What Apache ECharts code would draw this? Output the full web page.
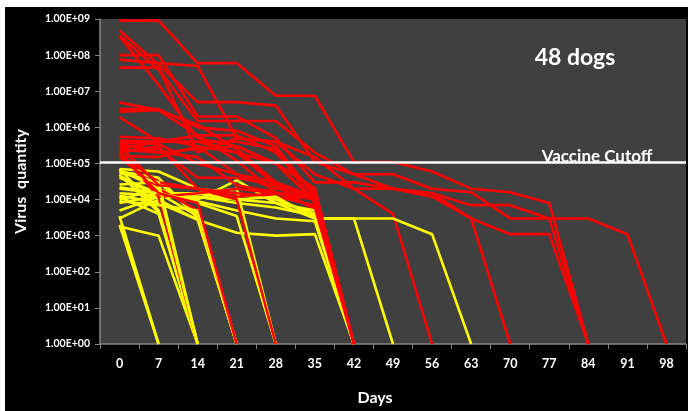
<!DOCTYPE html>
<html>
<head>
<meta charset="utf-8">
<script src="https://cdn.jsdelivr.net/npm/echarts@6/dist/echarts.min.js"></script>
<style>
  html, body { margin: 0; padding: 0; background: #fff; }
  #main { position: absolute; left: 5px; top: 7px; width: 683px; height: 404px; }
</style>
</head>
<body>
<div id="main"></div>
<script>
const days = ['0', '7', '14', '21', '28', '35', '42', '49', '56', '63', '70', '77', '84', '91', '98']
const cutoff = 1.1e5

// each dog: virus quantity per sampling day, last value 1 = cleared
const redDogs = [
  [9e8, 9e8, 6e7, 6e7, 7.5e6, 7.5e6, 1.1e5, 1.1e5, 6e4, 2e4, 1.6e4, 8e3, 1],
  [7.5e7, 6e7, 5e7, 5e5, 4e5, 1.5e5, 2e4, 2e4, 1.5e4, 7e3, 7e3, 3e3, 3e3, 1.1e3, 1],
  [4.8e8, 5.5e7, 5e6, 5e6, 4e6, 1.1e5, 5e4, 2e4, 1.2e4, 3e3, 1.1e3, 1.1e3, 1],
  [3.5e8, 4e7, 1.5e6, 1.5e6, 1.5e6, 2e5, 5e4, 5e4, 2e4, 1.6e4, 3e3, 3e3, 1],
  [1e8, 1e8, 2e6, 2e6, 5e5, 3e4, 3e4, 2e4, 1.5e4, 3e3, 1],
  [4.5e7, 4.5e7, 2e5, 5e5, 4e5, 5e4, 2e4, 4e3, 1],
  [3.3e8, 1.5e7, 5e5, 3e5, 1e5, 2e4, 1],
  [4.9e6, 3e6, 6e5, 6e5, 2e5, 1.5e4, 1],
  [3.2e6, 3.2e6, 1e6, 8e5, 3e5, 1.2e4, 1],
  [2.7e6, 3e6, 1.2e6, 2.5e5, 3e4, 1e4, 1],
  [1.9e6, 4e5, 4e5, 4e5, 2.5e5, 8e3, 1],
  [4.3e5, 4e5, 4e5, 2e5, 2.5e4, 1e4, 1],
  [3.7e5, 3.5e5, 1e5, 5e4, 2e4, 1.5e4, 1],
  [3.1e5, 2.5e5, 4e4, 4e4, 2.5e4, 5e3, 1],
  [2.4e5, 2e5, 2.5e5, 3e5, 1e5, 9e3, 1],
  [2e5, 3e5, 2e4, 1.5e4, 1.2e4, 7e3, 1],
  [2e5, 1.2e4, 1],
  [1.5e5, 2e4, 5e3, 1],
  [1.6e5, 1.5e5, 3e5, 5e4, 3e4, 1.2e4, 1],
  [2.2e5, 1.2e4, 1.5e4, 2e4, 1.5e4, 1e4, 1],
  [1.8e5, 3e4, 2e4, 1.2e4, 1.5e4, 1.3e4, 1],
  [3.5e5, 2e5, 1.5e5, 2.5e4, 1.6e4, 6e3, 1],
  [2.5e5, 4e5, 6e5, 1.2e5, 1.5e4, 1.2e4, 1],
  [1.9e5, 1.5e4, 8e3, 1],
  [5.5e5, 5e5, 3e5, 2e5, 1e5, 2e4, 1],
  [3e5, 2.5e4, 2e4, 1e4, 1]
]

const yellowDogs = [
  [3.5e3, 1],
  [2e3, 1],
  [1.8e3, 1e3, 1],
  [7e4, 5e3, 1],
  [5e4, 4.5e3, 1],
  [1.2e4, 4e3, 1],
  [6e4, 4e4, 3e3, 1],
  [4e4, 1.5e4, 3.5e3, 1],
  [1.3e4, 8e3, 2.8e3, 1],
  [2.6e4, 3e4, 4e3, 1],
  [1e4, 2e4, 8e3, 3.5e3, 1],
  [5e3, 1.2e4, 1.5e4, 2e4, 1],
  [3e3, 1e4, 2.7e3, 1.2e3, 1e3, 1.1e3, 1],
  [1.5e4, 1.3e4, 1e4, 3.4e4, 8e3, 5e3, 1],
  [7e4, 6e4, 2e4, 1.5e4, 1e4, 4e3, 1],
  [4.5e4, 1.2e4, 1.2e4, 8e3, 6e3, 3.5e3, 1],
  [2e4, 1.5e4, 1.5e4, 1e4, 8e3, 3e3, 3e3, 1],
  [8e3, 1.3e4, 1.2e4, 1e4, 1.2e4, 3e3, 3e3, 3e3, 1.1e3, 1],
  [6.5e4, 2e4, 1],
  [9e3, 7e3, 5e3, 1],
  [2.2e4, 1.5e4, 9e3, 5e3, 3e3, 2.5e3, 1],
  [5.5e4, 3e4, 1]
]

const chart = echarts.init(document.getElementById('main'))

function dogSeries (data, color) {
  return {
    type: 'line',
    data: data,
    symbol: 'none',
    silent: true,
    lineStyle: { color: color, width: 2.6 }
  }
}

// mix the two groups so neither colour always sits on top
const series = []
const n = Math.max(redDogs.length, yellowDogs.length)
for (let i = 0; i < n; i++) {
  if (redDogs[i]) series.push(dogSeries(redDogs[i], '#ff0000'))
  if (yellowDogs[i]) series.push(dogSeries(yellowDogs[i], '#ffff00'))
}
series[series.length - 1].markLine = {
  silent: true,
  symbol: 'none',
  label: { show: false },
  lineStyle: { color: '#ffffff', width: 2.5, type: 'solid' },
  data: [{ yAxis: cutoff }]
}

function expLabel (v) {
  const exp = Math.round(Math.log10(v))
  const mant = v / Math.pow(10, exp)
  return mant.toFixed(2) + 'E+' + (exp < 10 ? '0' : '') + exp
}

const option = {
  animation: false,
  backgroundColor: '#000000',
  textStyle: { fontFamily: 'Lato' },
  grid: {
    left: 93,
    right: 2,
    top: 12,
    bottom: 64,
    show: true,
    backgroundColor: '#404040',
    borderWidth: 0
  },
  xAxis: {
    type: 'category',
    data: days,
    boundaryGap: true,
    name: 'Days',
    nameLocation: 'middle',
    nameGap: 46,
    nameTextStyle: { color: '#fff', fontWeight: 'bold', fontSize: 16, padding: [0, 36, 0, 0] },
    axisLine: { lineStyle: { color: '#868686', width: 1.5 } },
    axisTick: { show: true, length: 5, lineStyle: { color: '#868686' } },
    axisLabel: { color: '#fff', fontWeight: 'bold', fontSize: 12.5, margin: 13 },
    splitLine: { show: false }
  },
  yAxis: {
    type: 'log',
    logBase: 10,
    min: 1,
    max: 1e9,
    name: 'Virus  quantity',
    nameLocation: 'middle',
    nameGap: 71,
    nameTextStyle: { color: '#fff', fontWeight: 'bold', fontSize: 16 },
    axisLine: { show: true, lineStyle: { color: '#868686', width: 1.5 } },
    axisTick: { show: true, length: 5, lineStyle: { color: '#868686' } },
    axisLabel: { color: '#fff', fontWeight: 'bold', fontSize: 10.5, margin: 10, formatter: expLabel },
    splitLine: { show: false },
    minorTick: { show: false }
  },
  graphic: [
    {
      type: 'text',
      x: 570,
      y: 51,
      style: {
        text: '48 dogs',
        font: 'bold 23px Lato',
        fill: '#fff',
        align: 'center',
        verticalAlign: 'middle'
      }
    },
    {
      type: 'text',
      x: 592,
      y: 150,
      style: {
        text: 'Vaccine Cutoff',
        font: 'bold 17px Lato',
        fill: '#fff',
        align: 'center',
        verticalAlign: 'middle'
      }
    }
  ],
  series: series
}

chart.setOption(option)
</script>
</body>
</html>
